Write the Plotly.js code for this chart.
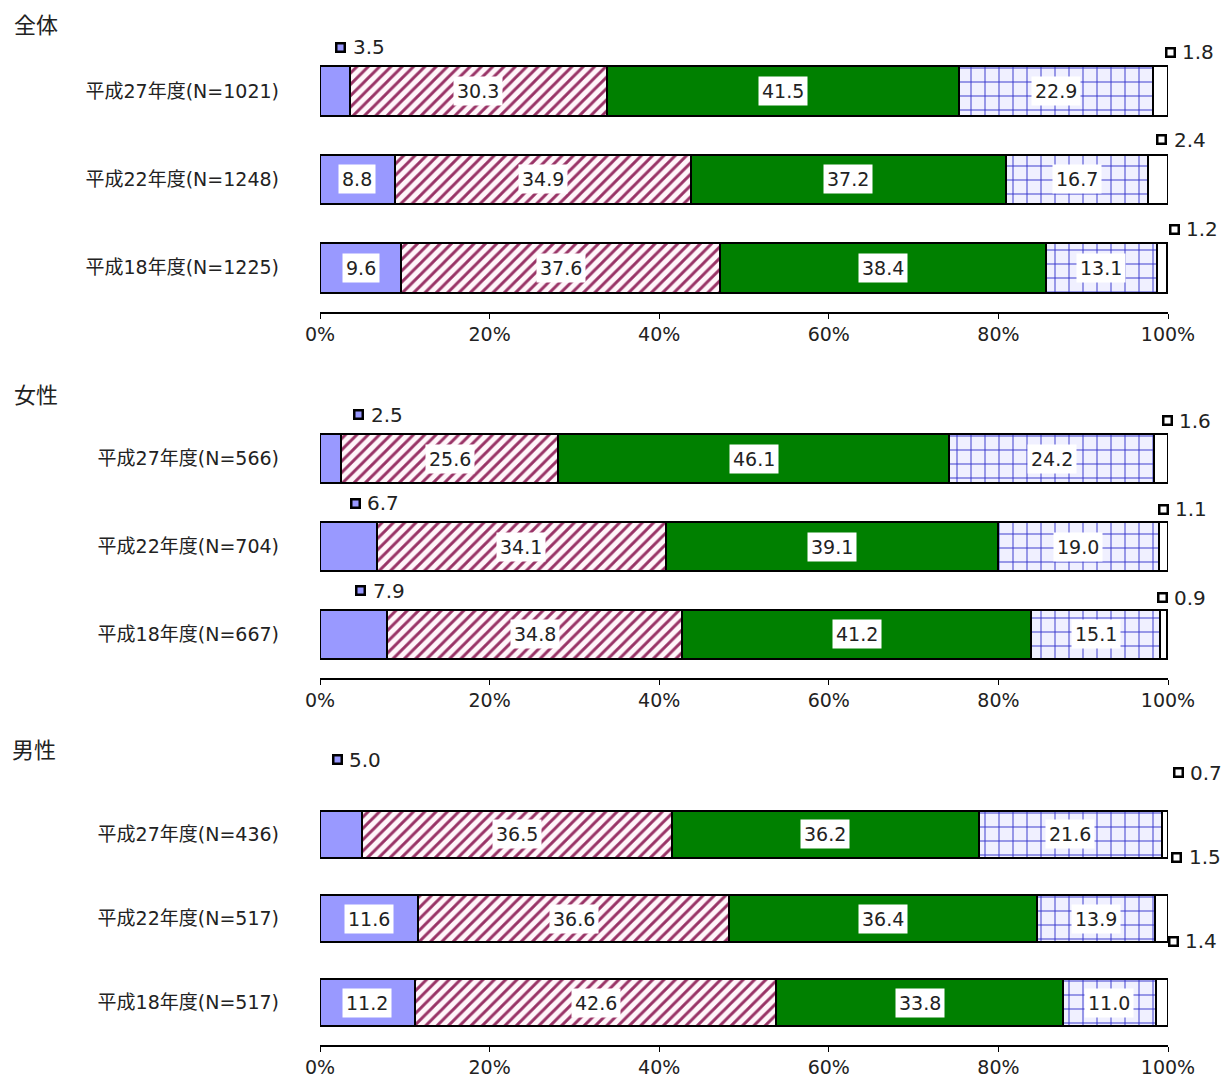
<!DOCTYPE html>
<html>
<head>
<meta charset="utf-8">
<script src="https://cdn.plot.ly/plotly-3.0.1.min.js"></script>
<style>html,body{margin:0;padding:0;background:#fff}#chart{width:1231px;height:1077px}</style>
</head>
<body>
<div id="chart"></div>
<script>
// ---- data ----
const panelTitles = ['全体', '女性', '男性'];
const labelsAll = ['平成27年度(N=1021)', '平成22年度(N=1248)', '平成18年度(N=1225)'];
const labelsFemale = ['平成27年度(N=566)', '平成22年度(N=704)', '平成18年度(N=667)'];
const labelsMale = ['平成27年度(N=436)', '平成22年度(N=517)', '平成18年度(N=517)'];

const allS1 = [3.5, 8.8, 9.6];
const allS2 = [30.3, 34.9, 37.6];
const allS3 = [41.5, 37.2, 38.4];
const allS4 = [22.9, 16.7, 13.1];
const allS5 = [1.8, 2.4, 1.2];

const femS1 = [2.5, 6.7, 7.9];
const femS2 = [25.6, 34.1, 34.8];
const femS3 = [46.1, 39.1, 41.2];
const femS4 = [24.2, 19.0, 15.1];
const femS5 = [1.6, 1.1, 0.9];

const maleS1 = [5.0, 11.6, 11.2];
const maleS2 = [36.5, 36.6, 42.6];
const maleS3 = [36.2, 36.4, 33.8];
const maleS4 = [21.6, 13.9, 11.0];
const maleS5 = [0.7, 1.5, 1.4];

const xTicks = [0, 20, 40, 60, 80, 100];
const xTickLabels = ['0%', '20%', '40%', '60%', '80%', '100%'];

// ---- styles ----
const W = 1231, H = 1077;
const FONT = '"DejaVu Sans", "Noto Sans CJK JP", sans-serif';
const panels = [
  {title: panelTitles[0], labels: labelsAll, series: [allS1, allS2, allS3, allS4, allS5],
   top: 47, bottom: 312, titleX: 12, titleY: 25,
   first: [[6, -44], null, null],
   last: [[10, -39], [4, -39.5], [12, -38.5]]},
  {title: panelTitles[1], labels: labelsFemale, series: [femS1, femS2, femS3, femS4, femS5],
   top: 415, bottom: 678, titleX: 12, titleY: 395,
   first: [[28, -44], [7, -43.5], [7.5, -43.5]],
   last: [[6, -38], [0, -37.5], [-1, -36.5]]},
  {title: panelTitles[2], labels: labelsMale, series: [maleS1, maleS2, maleS3, maleS4, maleS5],
   top: 792, bottom: 1045, titleX: 10, titleY: 750,
   first: [[-4, -74.5], null, null],
   last: [[13, -61.5], [15, -61.5], [11, -61.5]]}
];

const segStyles = [
  {color: '#9999FF'},
  {color: '#FFFFFF', pattern: {shape: '/', fgcolor: '#993366', bgcolor: '#FFF6FA', size: 8, solidity: 0.36, fillmode: 'replace'}},
  {color: '#008000'},
  {color: '#F0F0FF', pattern: {shape: '+', fgcolor: '#3333CC', bgcolor: '#F0F0FF', size: 14, solidity: 0.13, fillmode: 'replace'}},
  {color: '#FFFFFF'}
];

const X0 = 320, X1 = 1168;
const traces = [];
const annotations = [];
const layout = {
  width: W, height: H,
  margin: {l: 0, r: 0, t: 0, b: 0},
  paper_bgcolor: '#fff', plot_bgcolor: 'rgba(0,0,0,0)',
  barmode: 'stack',
  showlegend: false,
  font: {family: FONT, color: '#222'},
  annotations: annotations
};

panels.forEach((p, pi) => {
  const sfx = pi === 0 ? '' : String(pi + 1);
  const xa = 'x' + sfx, ya = 'y' + sfx;
  const rows = [0, 1, 2];
  p.series.forEach((vals, si) => {
    const st = segStyles[si];
    const marker = {color: st.color, line: {color: '#000', width: 2}};
    if (st.pattern) marker.pattern = st.pattern;
    traces.push({
      type: 'bar', orientation: 'h',
      x: vals, y: rows, width: 0.56,
      xaxis: xa, yaxis: ya,
      marker: marker, hoverinfo: 'skip'
    });
  });
  layout['xaxis' + sfx] = {
    domain: [X0 / W, X1 / W], anchor: ya,
    range: [0, 100], tickmode: 'array', tickvals: xTicks, ticktext: xTickLabels,
    showline: true, linecolor: '#000', linewidth: 1.5,
    ticks: 'outside', ticklen: 5, tickcolor: '#000', tickwidth: 1,
    showgrid: false, zeroline: false,
    tickfont: {size: 19, color: '#222', family: FONT}, fixedrange: true
  };
  layout['yaxis' + sfx] = {
    domain: [1 - p.bottom / H, 1 - p.top / H], anchor: xa,
    range: [2.5, -0.5], tickmode: 'array', tickvals: rows, ticktext: p.labels,
    showline: false, showgrid: false, zeroline: false, ticks: '',
    ticklabelstandoff: 40,
    tickfont: {size: 19, color: '#222', family: FONT}, fixedrange: true
  };
  // panel title
  annotations.push({
    xref: 'paper', yref: 'paper', x: p.titleX / W, y: 1 - p.titleY / H,
    xanchor: 'left', yanchor: 'middle', showarrow: false,
    text: p.title, font: {size: 22, color: '#222', family: FONT}
  });
  // segment labels
  rows.forEach(r => {
    let cum = 0;
    p.series.forEach((vals, si) => {
      const v = vals[r];
      const center = cum + v / 2;
      cum += v;
      const txt = v.toFixed(1);
      let callout = null;
      if (si === 0 && p.first[r]) callout = {fill: '#9999FF', off: p.first[r]};
      if (si === 4) callout = {fill: '#FFFFFF', off: p.last[r]};
      if (callout) {
        const dx = callout.off[0], dy = -callout.off[1];
        // small square marker
        annotations.push({
          xref: xa, yref: ya, x: center, y: r,
          xshift: dx, yshift: dy, xanchor: 'center', yanchor: 'middle',
          showarrow: false, text: ' ', width: 6, height: 6,
          bgcolor: callout.fill, bordercolor: '#000', borderwidth: 2.5, borderpad: 0,
          font: {size: 4, color: callout.fill}
        });
        annotations.push({
          xref: xa, yref: ya, x: center, y: r,
          xshift: dx + 10, yshift: dy, xanchor: 'left', yanchor: 'middle',
          showarrow: false, text: txt,
          font: {size: 20, color: '#222', family: FONT}
        });
      } else {
        annotations.push({
          xref: xa, yref: ya, x: center, y: r,
          showarrow: false, text: txt, bgcolor: '#FFFFFF', borderpad: 3,
          font: {size: 19, color: '#222', family: FONT}
        });
      }
    });
  });
});

Plotly.newPlot('chart', traces, layout, {staticPlot: true, displayModeBar: false});
</script>
</body>
</html>
